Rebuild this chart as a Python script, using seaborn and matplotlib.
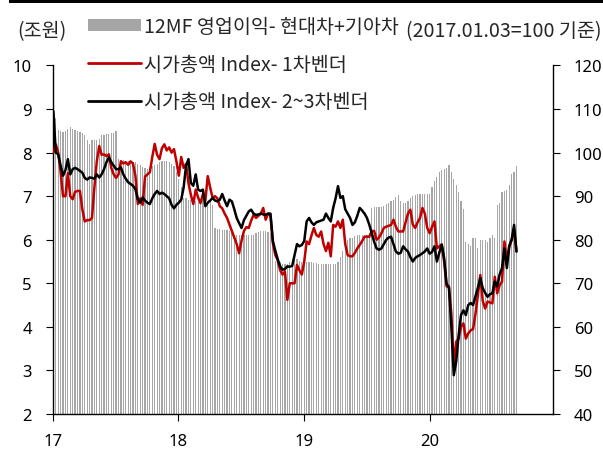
import numpy as np
import pandas as pd
import matplotlib
matplotlib.use("Agg")
import matplotlib.pyplot as plt
import matplotlib.dates as mdates
from matplotlib.patches import Patch, Rectangle
from matplotlib.lines import Line2D
import seaborn as sns

# ------------------------------------------------------------------
# Data (weekly, from 2017-01-03)
# ------------------------------------------------------------------
# 12MF operating profit, Hyundai + Kia (조원, left axis)
op_profit = [
    8.87, 8.80, 8.52, 8.50, 8.48, 8.50, 8.55, 8.58, 8.55, 8.52,
    8.50, 8.47, 8.45, 8.40, 8.30, 8.20, 8.28, 8.30, 8.30, 8.32,
    8.40, 8.40, 8.42, 8.42, 8.45, 8.45, 8.50, 7.85, 7.82, 7.82,
    7.80, 7.80, 7.80, 7.78, 7.78, 7.75, 7.72, 7.68, 7.65, 7.62,
    7.68, 7.70, 7.72, 7.75, 7.78, 7.80, 7.80, 7.80, 7.78, 7.75,
    7.70, 7.55, 7.40, 7.20, 6.95, 6.95, 6.92, 6.92, 6.90, 6.90,
    6.88, 6.90, 6.92, 6.92, 6.90, 6.88, 6.80, 6.27, 6.25, 6.25,
    6.22, 6.22, 6.22, 6.20, 6.20, 6.10, 6.10, 6.10, 6.10, 6.10,
    6.10, 6.10, 6.10, 6.12, 6.15, 6.18, 6.20, 6.20, 6.20, 6.18,
    6.15, 6.15, 5.52, 5.50, 5.48, 5.45, 5.45, 5.45, 5.48, 5.50,
    5.55, 5.55, 5.52, 5.50, 5.50, 5.50, 5.48, 5.48, 5.47, 5.47,
    5.45, 5.45, 5.45, 5.45, 5.45, 5.45, 5.45, 5.45, 5.50, 5.60,
    5.75, 5.90, 6.00, 6.05, 6.05, 6.08, 6.10, 6.10, 6.12, 6.12,
    6.10, 6.15, 6.72, 6.75, 6.75, 6.75, 6.75, 6.78, 6.82, 6.85,
    6.88, 6.92, 6.98, 7.02, 6.90, 6.85, 6.85, 6.88, 6.95, 7.00,
    7.02, 7.05, 7.05, 7.05, 7.05, 7.05, 7.05, 7.20, 7.35, 7.45,
    7.55, 7.60, 7.62, 7.65, 7.72, 7.55, 7.40, 7.25, 7.10, 6.90,
    6.70, 5.95, 5.90, 5.85, 6.05, 6.05, 5.80, 6.00, 6.00, 6.00,
    5.95, 6.05, 6.10, 6.05, 6.80, 6.85, 7.10, 7.12, 7.15, 7.25,
    7.52, 7.55, 7.70,
]

# Market-cap index, tier-1 vendors (2017.01.03=100, right axis)
tier1_index = [
    100.0, 101.9, 100.0, 95.5, 90.0, 90.0, 95.3, 90.0, 89.3, 91.0,
    91.2, 91.2, 87.0, 84.2, 84.5, 84.5, 85.0, 92.0, 98.0, 101.5,
    99.5, 99.6, 99.2, 99.6, 96.5, 95.0, 94.2, 95.0, 98.0, 97.5,
    97.8, 97.2, 98.0, 97.5, 94.7, 88.2, 89.5, 88.0, 94.5, 95.0,
    95.5, 99.0, 102.0, 99.5, 98.5, 101.0, 101.9, 100.5, 101.2, 100.0,
    100.8, 98.0, 94.7, 99.0, 96.5, 97.4, 93.0, 90.3, 88.2, 91.5,
    89.7, 88.4, 90.5, 89.0, 94.6, 92.0, 89.6, 90.0, 89.5, 87.7,
    87.2, 86.0, 85.0, 83.5, 82.0, 80.5, 79.0, 76.9, 79.8, 82.0,
    82.9, 82.7, 84.4, 85.7, 85.0, 85.5, 86.0, 87.3, 84.6, 86.0,
    85.5, 79.2, 76.5, 75.3, 73.0, 72.0, 72.7, 66.2, 70.0, 70.0,
    70.0, 74.2, 73.0, 72.0, 75.0, 79.6, 79.0, 81.0, 82.7, 81.1,
    80.7, 81.9, 79.0, 77.4, 79.3, 76.2, 83.4, 83.0, 84.2, 82.7,
    84.6, 79.0, 76.5, 76.2, 76.2, 77.0, 78.0, 78.8, 79.7, 80.7,
    80.7, 80.7, 82.0, 82.0, 80.0, 80.5, 81.5, 82.7, 83.0, 83.2,
    83.4, 84.6, 83.0, 81.9, 81.9, 81.9, 84.0, 86.0, 86.9, 83.5,
    82.7, 84.0, 85.0, 87.3, 86.0, 82.7, 81.5, 83.0, 84.2, 78.0,
    78.5, 78.9, 75.0, 69.3, 69.3, 63.0, 51.1, 56.6, 57.3, 60.0,
    60.8, 57.3, 58.5, 59.2, 59.5, 63.0, 67.3, 71.9, 66.0, 64.2,
    65.8, 65.6, 65.4, 71.5, 67.7, 69.5, 70.4, 79.6, 75.0, 78.5,
    80.0, 82.3, 77.3,
]

# Market-cap index, tier-2~3 vendors (2017.01.03=100, right axis)
tier23_index = [
    109.5, 100.0, 99.6, 97.0, 94.7, 96.0, 98.5, 95.0, 96.2, 96.5,
    96.2, 95.8, 95.4, 94.2, 93.8, 94.3, 94.2, 94.0, 95.0, 94.3,
    95.0, 96.2, 97.8, 98.9, 97.8, 97.0, 96.2, 96.2, 96.6, 95.0,
    94.0, 93.2, 92.8, 92.4, 91.6, 89.3, 88.5, 89.7, 89.0, 88.5,
    88.2, 89.5, 90.5, 91.2, 90.5, 90.8, 90.5, 90.0, 89.5, 88.0,
    87.2, 88.0, 88.5, 89.2, 92.0, 97.0, 98.5, 93.0, 92.4, 95.0,
    91.5, 91.2, 91.5, 87.7, 88.5, 89.0, 89.6, 89.0, 88.8, 89.2,
    90.5, 89.0, 87.7, 89.2, 88.8, 87.0, 85.0, 83.8, 82.7, 84.5,
    85.5, 86.5, 86.9, 86.0, 85.7, 85.8, 86.0, 85.8, 85.7, 86.0,
    86.0, 79.7, 77.5, 75.5, 73.9, 73.1, 73.3, 73.9, 73.8, 74.0,
    76.5, 79.0, 78.5, 78.8, 79.7, 84.2, 85.0, 84.0, 83.4, 84.0,
    84.2, 84.4, 84.6, 86.0, 85.0, 84.2, 87.3, 89.5, 92.3, 89.6,
    90.0, 87.0, 86.0, 85.0, 83.4, 84.0, 85.5, 87.3, 86.7, 86.0,
    85.0, 83.4, 81.5, 79.5, 78.0, 77.7, 78.0, 79.0, 80.0, 80.5,
    80.7, 79.0, 77.3, 76.8, 77.0, 78.5, 77.8, 77.3, 76.0, 75.0,
    75.8, 76.2, 76.5, 76.9, 77.3, 78.0, 76.8, 77.2, 78.5, 75.0,
    77.0, 78.9, 75.8, 70.0, 68.9, 60.0, 48.9, 52.0, 58.0, 62.7,
    63.8, 62.7, 65.0, 65.5, 65.0, 67.0, 69.0, 71.2, 68.9, 67.8,
    66.9, 67.5, 67.7, 70.4, 69.3, 72.0, 73.5, 78.0, 73.5, 78.5,
    80.0, 83.4, 77.3,
]

dates = pd.date_range("2017-01-03", periods=len(op_profit), freq="7D")

label_bar = "12MF 영업이익- 현대차+기아차"
label_t1 = "시가총액 Index- 1차벤더"
label_t23 = "시가총액 Index- 2~3차벤더"

# ------------------------------------------------------------------
# Style
# ------------------------------------------------------------------
sns.set_style("white")
plt.rcParams["font.family"] = ["Noto Sans CJK KR", "DejaVu Sans"]
plt.rcParams["axes.unicode_minus"] = False

FS_TICK = 12
FS_LEG = 14.1
BAR_C = "#A6A6A6"
RED_C = "#C00000"

fig = plt.figure(figsize=(6.03, 4.52), dpi=100)
ax = fig.add_axes([0.0874, 0.0819, 0.8297, 0.7710])
ax2 = ax.twinx()

# bars (left axis)
ax.bar(dates, op_profit, width=3.5, color=BAR_C, linewidth=0)

# lines (right axis)
line_df = pd.DataFrame({"date": dates, "t1": tier1_index, "t23": tier23_index})
sns.lineplot(data=line_df, x="date", y="t1", ax=ax2, color=RED_C, linewidth=1.8)
sns.lineplot(data=line_df, x="date", y="t23", ax=ax2, color="black", linewidth=1.8)

ax.set_ylim(2, 10)
ax2.set_ylim(40, 120)
ax.set_xlim(pd.Timestamp("2017-01-01"), pd.Timestamp("2020-12-23"))
ax.set_yticks(range(2, 11))
ax2.set_yticks(range(40, 121, 10))
ax.xaxis.set_major_locator(mdates.YearLocator())
ax.xaxis.set_major_formatter(mdates.DateFormatter("%y"))

for a in (ax, ax2):
    a.set_xlabel("")
    a.set_ylabel("")
    a.grid(False)
    a.spines["top"].set_visible(False)
    for s in ("left", "right", "bottom"):
        a.spines[s].set_color("black")
        a.spines[s].set_linewidth(1.0)

ax.spines["right"].set_visible(False)
ax2.spines["left"].set_visible(False)
ax2.spines["bottom"].set_visible(False)

ax.tick_params(axis="y", direction="out", length=5, width=0.8, pad=10,
               labelsize=FS_TICK, left=True, colors="black")
ax.tick_params(axis="x", direction="out", length=5, width=0.8, pad=9,
               labelsize=FS_TICK, bottom=True, colors="black")
ax2.tick_params(axis="y", direction="out", length=5, width=0.8, pad=10,
                labelsize=FS_TICK, right=True, colors="black")

# tick labels are plain digits: a Latin face keeps their boxes compact
for lbl in ax.get_xticklabels() + ax.get_yticklabels() + ax2.get_yticklabels():
    lbl.set_family("Noto Sans")

# legend
handles = [
    Patch(facecolor=BAR_C, edgecolor="none"),
    Line2D([], [], color=RED_C, linewidth=2),
    Line2D([], [], color="black", linewidth=2),
]
ax2.legend(handles, [label_bar, label_t1, label_t23],
           loc="upper left", bbox_to_anchor=(0.146, 0.962),
           bbox_transform=fig.transFigure, frameon=False, fontsize=FS_LEG,
           handlelength=2.7, handleheight=0.58, handletextpad=0.15,
           labelspacing=0.84, borderpad=0, borderaxespad=0)

# unit labels
fig.text(0.028, 0.931, "(조원)", fontsize=FS_LEG, ha="left", va="center")
fig.text(0.997, 0.929, "(2017.01.03=100 기준)", fontsize=FS_LEG, ha="right", va="center")

# top rule
fig.add_artist(Rectangle((0.015, 0.991), 0.985, 0.009, transform=fig.transFigure,
                         facecolor="black", edgecolor="none"))

fig.savefig("out.png", dpi=100)
